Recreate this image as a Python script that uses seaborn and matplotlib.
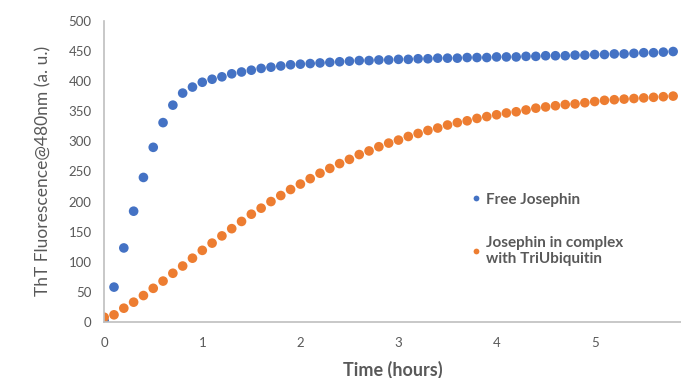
import matplotlib
matplotlib.use("Agg")
import matplotlib.pyplot as plt
import seaborn as sns
import pandas as pd

time_h = [0.0, 0.1, 0.2, 0.3, 0.4, 0.5, 0.6, 0.7, 0.8, 0.9,
          1.0, 1.1, 1.2, 1.3, 1.4, 1.5, 1.6, 1.7, 1.8, 1.9,
          2.0, 2.1, 2.2, 2.3, 2.4, 2.5, 2.6, 2.7, 2.8, 2.9,
          3.0, 3.1, 3.2, 3.3, 3.4, 3.5, 3.6, 3.7, 3.8, 3.9,
          4.0, 4.1, 4.2, 4.3, 4.4, 4.5, 4.6, 4.7, 4.8, 4.9,
          5.0, 5.1, 5.2, 5.3, 5.4, 5.5, 5.6, 5.7, 5.8]

free_josephin = [2, 58, 123, 184, 240, 290, 331, 360, 380, 390,
                 398, 403, 407, 412, 415, 418, 421, 423, 425, 427,
                 428, 429, 430, 431, 432, 433, 434, 434, 435, 435,
                 436, 436, 437, 437, 438, 438, 438, 439, 439, 439,
                 440, 440, 440, 441, 441, 442, 442, 442, 443, 443,
                 444, 444, 445, 445, 446, 447, 447, 448, 449]

complex_triubq = [8, 12, 23, 33, 44, 56, 68, 81, 93, 106,
                  119, 131, 143, 155, 167, 179, 189, 200, 210, 220,
                  229, 238, 247, 255, 263, 270, 278, 284, 291, 297,
                  302, 308, 313, 318, 322, 327, 331, 334, 338, 341,
                  344, 347, 349, 352, 355, 357, 359, 361, 362, 364,
                  366, 368, 369, 370, 371, 372, 373, 374, 375]

series_names = ["Free Josephin", "Josephin in complex\nwith TriUbiquitin"]
colors = ["#4472C4", "#ED7D31"]

df = pd.concat([
    pd.DataFrame({"Time": time_h, "F": free_josephin, "Series": series_names[0]}),
    pd.DataFrame({"Time": time_h, "F": complex_triubq, "Series": series_names[1]}),
], ignore_index=True)

sns.set_style("white")
plt.rcParams["font.family"] = ["Lato", "DejaVu Sans"]

fig = plt.figure(figsize=(6.81, 3.78), dpi=100)
ax = fig.add_axes([0.153, 0.148, 0.847, 0.797])

sns.scatterplot(data=df, x="Time", y="F", hue="Series", hue_order=series_names,
                palette=colors, s=48, edgecolor="none", linewidth=0, ax=ax)

ax.set_xlim(0, 5.88)
ax.set_ylim(0, 500)
ax.set_xticks([0, 1, 2, 3, 4, 5])
ax.set_yticks(list(range(0, 501, 50)))

gray = "#595959"
for side in ["top", "right"]:
    ax.spines[side].set_visible(False)
for side in ["left", "bottom"]:
    ax.spines[side].set_color("#BFBFBF")
    ax.spines[side].set_linewidth(1.2)
ax.tick_params(axis="both", which="major", length=3, width=1, color="#BFBFBF",
               labelcolor=gray, labelsize=9.5, direction="out", pad=6)
ax.tick_params(axis="x", pad=8)

ax.set_xlabel("Time (hours)", fontsize=13, color=gray, fontweight="bold", labelpad=8)
ax.set_ylabel("ThT Fluorescence@480nm (a. u.)", fontsize=12.5, color=gray, labelpad=12)

leg = ax.legend(frameon=False, loc="upper left", bbox_to_anchor=(0.605, 0.475),
                fontsize=11, labelspacing=1.9, handletextpad=0.05, markerscale=0.6,
                handlelength=1.2)
for t in leg.get_texts():
    t.set_color(gray)
    t.set_fontweight("bold")

fig.savefig("out.png", dpi=100)
